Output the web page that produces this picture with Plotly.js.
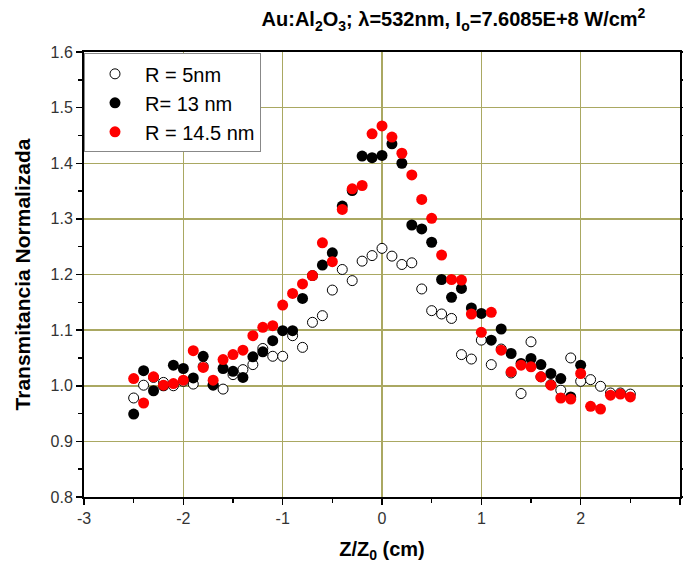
<!DOCTYPE html>
<html>
<head>
<meta charset="utf-8">
<script src="https://cdn.plot.ly/plotly-3.0.1.min.js"></script>
<style>html,body{margin:0;padding:0;background:#fff;}#chart{width:683px;height:569px;}</style>
</head>
<body>
<div id="chart"></div>
<script>
// Z/Z0 positions (cm)
const zAll = [-2.5,-2.4,-2.3,-2.2,-2.1,-2.0,-1.9,-1.8,-1.7,-1.6,-1.5,-1.4,-1.3,-1.2,-1.1,-1.0,-0.9,-0.8,-0.7,-0.6,-0.5,-0.4,-0.3,-0.2,-0.1,0,0.1,0.2,0.3,0.4,0.5,0.6,0.7,0.8,0.9,1.0,1.1,1.2,1.3,1.4,1.5,1.6,1.7,1.8,1.9,2.0,2.1,2.2,2.3,2.4,2.5];
const z13 = [-2.5,-2.4,-2.3,-2.2,-2.1,-2.0,-1.9,-1.8,-1.7,-1.6,-1.5,-1.4,-1.3,-1.2,-1.1,-1.0,-0.9,-0.8,-0.7,-0.6,-0.5,-0.4,-0.3,-0.2,-0.1,0,0.1,0.2,0.3,0.4,0.5,0.6,0.7,0.8,0.9,1.0,1.1,1.2,1.3,1.4,1.5,1.6,1.7,1.8,1.9,2.0];

// R = 5nm (open circles)
const t5 = [0.978,1.001,1.015,1.006,1.000,1.008,1.003,1.035,1.002,0.994,1.020,1.029,1.038,1.067,1.053,1.053,1.090,1.069,1.114,1.126,1.172,1.209,1.189,1.224,1.234,1.247,1.233,1.218,1.221,1.174,1.135,1.129,1.121,1.056,1.048,1.082,1.038,1.066,1.023,0.986,1.079,1.016,1.002,0.992,1.050,1.008,1.011,0.999,0.987,0.987,0.985];
// R = 13 nm (black)
const t13 = [0.949,1.027,0.991,1.000,1.037,1.031,1.014,1.053,1.001,1.031,1.026,1.015,1.052,1.061,1.081,1.099,1.099,1.157,1.198,1.217,1.239,1.323,1.351,1.413,1.410,1.414,1.435,1.400,1.289,1.282,1.258,1.191,1.159,1.175,1.140,1.130,1.082,1.102,1.058,1.040,1.049,1.038,1.022,1.013,0.980,1.037];
// R = 14.5 nm (red)
const t145 = [1.013,0.969,1.016,1.001,1.004,1.010,1.063,1.033,1.010,1.047,1.056,1.064,1.090,1.105,1.108,1.145,1.166,1.183,1.198,1.257,1.223,1.317,1.354,1.360,1.453,1.467,1.447,1.418,1.379,1.335,1.301,1.235,1.191,1.190,1.129,1.096,1.132,1.064,1.025,1.037,1.034,1.016,1.001,0.978,0.976,1.022,0.963,0.958,0.983,0.985,0.980];

const names = ['R = 5nm', 'R= 13 nm', 'R = 14.5 nm'];
const xTicks = [-3,-2,-1,0,1,2,3];
const yTicks = [0.8,0.9,1.0,1.1,1.2,1.3,1.4,1.5,1.6];
const yTickText = ['0.8','0.9','1.0','1.1','1.2','1.3','1.4','1.5','1.6'];

const FONT = 'Arial, "Liberation Sans", sans-serif';
const GRID = '#aaa862';

const traces = [
  {x: zAll, y: t5, name: names[0], type: 'scatter', mode: 'markers',
   marker: {symbol: 'circle', size: 10, color: '#ffffff', line: {color: '#000000', width: 1}}},
  {x: z13, y: t13, name: names[1], type: 'scatter', mode: 'markers',
   marker: {symbol: 'circle', size: 11, color: '#000000', line: {width: 0}}},
  {x: zAll, y: t145, name: names[2], type: 'scatter', mode: 'markers',
   marker: {symbol: 'circle', size: 11, color: '#ff0000', line: {width: 0}}}
];

const layout = {
  width: 683, height: 569,
  margin: {l: 84, r: 3, t: 51.5, b: 72},
  paper_bgcolor: '#ffffff', plot_bgcolor: '#ffffff',
  font: {family: FONT, color: '#222222'},
  showlegend: true,
  title: {
    text: '<b>Au:Al<sub>2</sub>O<sub>3</sub>; λ=532nm, I<sub>o</sub>=7.6085E+8 W/cm<sup>2</sup></b>',
    font: {family: FONT, size: 20, color: '#000000'},
    x: 0.62, xanchor: 'center', xref: 'paper', y: 0.966, yanchor: 'middle'
  },
  xaxis: {
    range: [-3, 3], tickvals: xTicks, ticktext: xTicks.map(String),
    showgrid: true, gridcolor: GRID, gridwidth: 1.5,
    zeroline: false, showline: true, linecolor: '#000000', linewidth: 2, mirror: true,
    ticks: 'outside', ticklen: 6, tickwidth: 1.5, tickcolor: '#000000',
    minor: {dtick: 0.5, tick0: 0, ticks: 'outside', ticklen: 4, tickwidth: 1.5, tickcolor: '#000000', showgrid: false},
    tickfont: {family: FONT, size: 16, color: '#333333'},
    title: {text: '<b>Z/Z<sub>0</sub> (cm)</b>', font: {family: FONT, size: 20, color: '#000000'}, standoff: 16}
  },
  yaxis: {
    range: [0.8, 1.6], tickvals: yTicks, ticktext: yTickText,
    showgrid: true, gridcolor: GRID, gridwidth: 1.5,
    zeroline: false, showline: true, linecolor: '#000000', linewidth: 2, mirror: 'ticks',
    ticks: 'outside', ticklen: 6, tickwidth: 1.5, tickcolor: '#000000',
    minor: {dtick: 0.05, tick0: 0.8, ticks: 'outside', ticklen: 4, tickwidth: 1.5, tickcolor: '#000000', showgrid: false},
    tickfont: {family: FONT, size: 16, color: '#333333'},
    title: {text: '<b>Transmitancia Normalizada</b>', font: {family: FONT, size: 21, color: '#000000'}, standoff: 14}
  },
  legend: {
    x: 0.0, y: 0.997, xanchor: 'left', yanchor: 'top',
    bgcolor: '#ffffff', bordercolor: '#888888', borderwidth: 1,
    font: {family: FONT, size: 20, color: '#000000'},
    itemwidth: 50, tracegroupgap: 0
  }
};

Plotly.newPlot('chart', traces, layout, {displayModeBar: false, staticPlot: true});
</script>
</body>
</html>
